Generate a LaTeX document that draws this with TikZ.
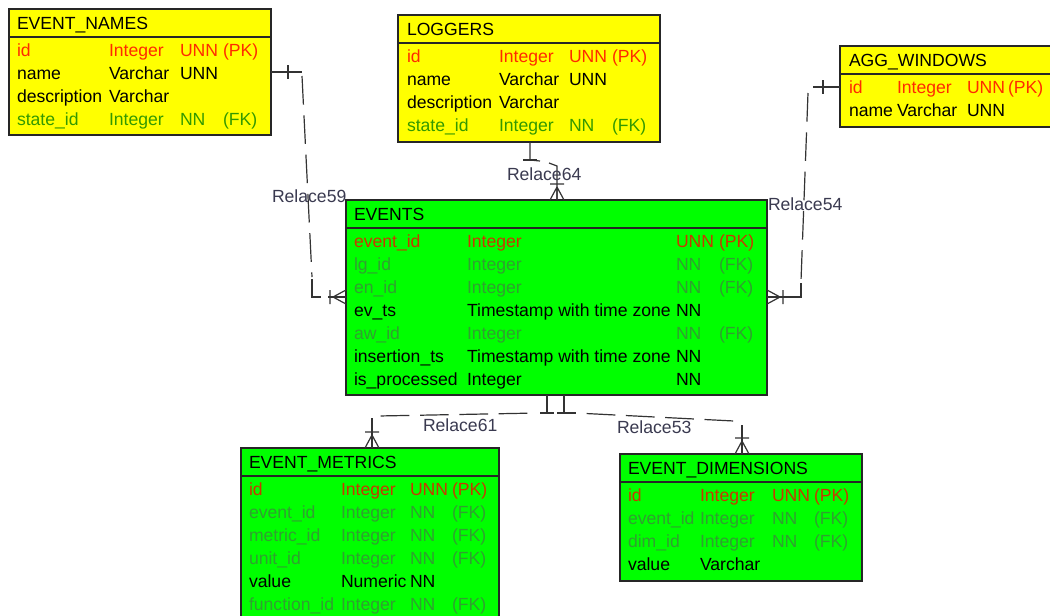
\documentclass[tikz,border=0pt]{standalone}
\usepackage{fontspec}
\setmainfont{Liberation Sans}
\usetikzlibrary{calc}
\definecolor{yel}{HTML}{FFFF00}
\definecolor{grn}{HTML}{00FF00}
\definecolor{pky}{HTML}{FF2B00}
\definecolor{fky}{HTML}{339900}
\definecolor{pkg}{HTML}{C83800}
\definecolor{fkg}{HTML}{30A030}
\definecolor{edgec}{HTML}{262626}
\definecolor{lnk}{HTML}{333333}
\definecolor{lbl}{HTML}{3A3A50}
\newcounter{rw}
\newcommand\trow[6]{%
 \stepcounter{rw}%
 \node[txt,text=#1] (c\therw a) at (\colA,#2) {#3};%
 \node[txt,text=#1] (c\therw b) at (\colB,#2) {#4};%
 \node[txt,text=#1] (c\therw c) at (\colC,#2) {#5};%
 \node[txt,text=#1] (c\therw d) at (\colD,#2) {#6};%
}
\newcommand\tsep[1]{\draw[sepl] ($(#1.north west)+(0,28)$) -- ($(#1.north east)+(0,28)$);}
\tikzset{
 tbl/.style={draw=edgec, line width=1.2pt, anchor=north west, inner sep=0pt, outer sep=0pt},
 sepl/.style={draw=edgec, line width=1.2pt},
 txt/.style={anchor=base west, inner sep=0pt, outer sep=0pt, font=\fontsize{13.2}{15}\selectfont},
 rel/.style={draw=lnk, line width=0.9pt},
 reldash/.style={rel, dash pattern=on 21.5pt off 8pt},
 lab/.style={txt, text=lbl},
 crow/.pic={\draw[rel] (-13,0) -- (0,-7) (-13,0) -- (0,0) (-13,0) -- (0,7) (-16,-7) -- (-16,7);},
 onebar/.pic={\draw[rel] (0,-7) -- (0,7);}
}
\begin{document}
\begin{tikzpicture}[x=0.75pt,y=-0.75pt]
\useasboundingbox[fill=white] (0,0) rectangle (1050,615);
\clip (0,0) rectangle (1050,615);

% ---------- tables ----------
\node[tbl, fill=yel, minimum width=262*0.75pt, minimum height=126*0.75pt] (EN) at (9,9) {};
\node[tbl, fill=yel, minimum width=262*0.75pt, minimum height=127*0.75pt] (LG) at (398,15) {};
\node[tbl, fill=yel, minimum width=240*0.75pt, minimum height=81*0.75pt] (AW) at (840,46) {};
\node[tbl, fill=grn, minimum width=421*0.75pt, minimum height=195*0.75pt] (EV) at (346,200) {};
\node[tbl, fill=grn, minimum width=258*0.75pt, minimum height=175*0.75pt] (EM) at (241,448) {};
\node[tbl, fill=grn, minimum width=242*0.75pt, minimum height=127*0.75pt] (ED) at (620,454) {};
\tsep{EN}\tsep{LG}\tsep{AW}\tsep{EV}\tsep{EM}\tsep{ED}

% EVENT_NAMES
\node[txt] (ENh) at (17,29) {EVENT\_NAMES};
\def\colA{17}\def\colB{109}\def\colC{180}\def\colD{223}
\trow{pky}{56}{id}{Integer}{UNN}{(PK)}
\trow{black}{79}{name}{Varchar}{UNN}{}
\trow{black}{102}{description}{Varchar}{}{}
\trow{fky}{125}{state\_id}{Integer}{NN}{(FK)}

% LOGGERS
\node[txt] (LGh) at (407,35) {LOGGERS};
\def\colA{407}\def\colB{499}\def\colC{569}\def\colD{612}
\trow{pky}{62}{id}{Integer}{UNN}{(PK)}
\trow{black}{85}{name}{Varchar}{UNN}{}
\trow{black}{108}{description}{Varchar}{}{}
\trow{fky}{131}{state\_id}{Integer}{NN}{(FK)}

% AGG_WINDOWS
\node[txt] (AWh) at (849,66) {AGG\_WINDOWS};
\def\colA{849}\def\colB{897}\def\colC{967}\def\colD{1008}
\trow{pky}{93}{id}{Integer}{UNN}{(PK)}
\trow{black}{116}{name}{Varchar}{UNN}{}

% EVENTS
\node[txt] (EVh) at (354,220) {EVENTS};
\def\colA{354}\def\colB{467}\def\colC{676}\def\colD{719}
\trow{pkg}{247}{event\_id}{Integer}{UNN}{(PK)}
\trow{fkg}{270}{lg\_id}{Integer}{NN}{(FK)}
\trow{fkg}{293}{en\_id}{Integer}{NN}{(FK)}
\trow{black}{316}{ev\_ts}{Timestamp with time zone}{NN}{}
\trow{fkg}{339}{aw\_id}{Integer}{NN}{(FK)}
\trow{black}{362}{insertion\_ts}{Timestamp with time zone}{NN}{}
\trow{black}{385}{is\_processed}{Integer}{NN}{}

% EVENT_METRICS
\node[txt] (EMh) at (249,468) {EVENT\_METRICS};
\def\colA{249}\def\colB{341}\def\colC{410}\def\colD{452}
\trow{pkg}{495}{id}{Integer}{UNN}{(PK)}
\trow{fkg}{518}{event\_id}{Integer}{NN}{(FK)}
\trow{fkg}{541}{metric\_id}{Integer}{NN}{(FK)}
\trow{fkg}{564}{unit\_id}{Integer}{NN}{(FK)}
\trow{black}{587}{value}{Numeric}{NN}{}
\trow{fkg}{610}{function\_id}{Integer}{NN}{(FK)}

% EVENT_DIMENSIONS
\node[txt] (EDh) at (628,474) {EVENT\_DIMENSIONS};
\def\colA{628}\def\colB{700}\def\colC{772}\def\colD{814}
\trow{pkg}{501}{id}{Integer}{UNN}{(PK)}
\trow{fkg}{524}{event\_id}{Integer}{NN}{(FK)}
\trow{fkg}{547}{dim\_id}{Integer}{NN}{(FK)}
\trow{black}{570}{value}{Varchar}{}{}

% ---------- connectors ----------
% Relace59 : EVENT_NAMES -> EVENTS
\coordinate (s59) at ($(EN.north east)+(0,63)$);
\coordinate (e59) at ($(EV.north west)+(0,97)$);
\draw[rel] (s59) -- ++(31,0);
\pic at ($(s59)+(17,0)$) {onebar};
\draw[reldash] ($(s59)+(31,4)$) -- ($(e59)+(-34,-20)$);
\draw[rel] ($(e59)+(-34,-18)$) -- ($(e59)+(-34,0)$) -- ($(e59)+(-25,0)$);
\draw[rel] ($(e59)+(-18,0)$) -- (e59);
\pic at (e59) {crow};
\node[lab] (L59) at (272,202) {Relace59};

% Relace64 : LOGGERS -> EVENTS
\coordinate (s64) at ($(LG.south west)+(132,0)$);
\coordinate (e64) at ($(EV.north west)+(211,0)$);
\draw[rel] (s64) -- ++(0,18) -- ++(10,1);
\pic[rotate=90] at ($(s64)+(0,18)$) {onebar};
\draw[rel] ($(s64)+(19,21)$) -- ($(e64)+(0,-34)$) -- (e64);
\pic[rotate=-90] at (e64) {crow};
\node[lab] (L64) at (507,180) {Relace64};

% Relace54 : AGG_WINDOWS -> EVENTS
\coordinate (s54) at ($(AW.north west)+(0,41)$);
\coordinate (e54) at ($(EV.north east)+(0,97)$);
\draw[rel] (s54) -- ++(-27,0);
\pic at ($(s54)+(-17,0)$) {onebar};
\draw[reldash] ($(s54)+(-32,6)$) -- ($(e54)+(34,-16)$);
\draw[rel] ($(e54)+(34,-14)$) -- ($(e54)+(34,0)$) -- (e54);
\pic[rotate=180] at (e54) {crow};
\node[lab] (L54) at (768,210) {Relace54};

% Relace61 : EVENTS -> EVENT_METRICS
\coordinate (s61) at ($(EV.south west)+(201,0)$);
\coordinate (e61) at ($(EM.north west)+(131,0)$);
\draw[rel] (s61) -- ++(0,18);
\pic[rotate=90] at ($(s61)+(0,18)$) {onebar};
\draw[reldash, dash phase=21.5pt] ($(s61)+(-9,18)$) -- ($(e61)+(6,-32)$);
\draw[rel] ($(e61)+(0,-30)$) -- (e61);
\pic[rotate=-90] at (e61) {crow};
\node[lab] (L61) at (423,431) {Relace61};

% Relace53 : EVENTS -> EVENT_DIMENSIONS
\coordinate (s53) at ($(EV.south west)+(218,0)$);
\coordinate (e53) at ($(ED.north west)+(122,0)$);
\draw[rel] (s53) -- ++(0,18) -- ++(12,0);
\pic[rotate=90] at ($(s53)+(0,18)$) {onebar};
\draw[reldash, dash phase=21.5pt] ($(s53)+(12,18)$) -- ($(e53)+(-8,-33)$) -- ($(e53)+(-8,-31)$);
\draw[rel] ($(e53)+(0,-29)$) -- (e53);
\pic[rotate=-90] at (e53) {crow};
\node[lab] (L53) at (617,433) {Relace53};
\end{tikzpicture}
\end{document}
